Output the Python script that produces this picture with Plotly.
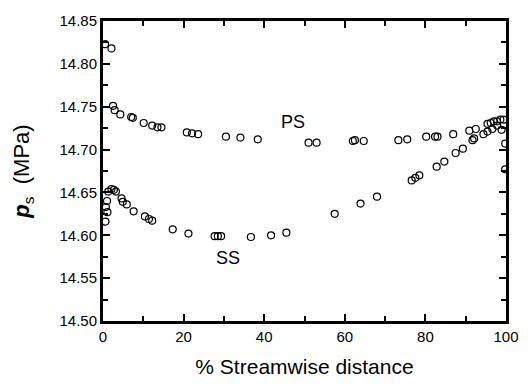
import plotly.graph_objects as go

# Pressure side (PS)
ps_x = [0.5, 2.1, 2.5, 2.9, 4.3, 7.0, 7.4, 10.1, 12.2, 13.5, 14.5, 20.8, 22.1, 23.6,
        30.5, 34.1, 38.4, 51.0, 53.0, 62.0, 62.5, 64.7, 73.3, 75.5, 80.2, 82.4, 83.0,
        86.9, 90.9, 92.5, 95.4, 96.2, 97.0, 97.8, 98.6, 99.4]
ps_y = [14.823, 14.818, 14.751, 14.746, 14.741, 14.738, 14.737, 14.731, 14.728, 14.726,
        14.726, 14.720, 14.719, 14.718, 14.715, 14.714, 14.712, 14.708, 14.708, 14.710,
        14.711, 14.710, 14.711, 14.712, 14.715, 14.715, 14.715, 14.718, 14.722, 14.724,
        14.730, 14.731, 14.733, 14.733, 14.735, 14.735]

# Suction side (SS)
ss_x = [0.6, 0.7, 1.0, 1.1, 1.3, 2.1, 2.7, 3.2, 4.6, 4.9, 5.9, 7.6, 10.4, 11.4, 12.2,
        17.3, 21.2, 27.7, 28.5, 29.3, 36.7, 41.7, 45.5, 57.5, 63.9, 68.0, 76.6, 77.5,
        78.5, 82.8, 84.7, 87.5, 89.3, 91.7, 92.1, 94.4, 95.4, 96.6, 97.8, 98.9, 99.8, 99.8]
ss_y = [14.616, 14.633, 14.640, 14.627, 14.651, 14.654, 14.653, 14.651, 14.643, 14.639,
        14.636, 14.628, 14.622, 14.619, 14.617, 14.607, 14.602, 14.599, 14.599, 14.599,
        14.598, 14.600, 14.603, 14.625, 14.637, 14.645, 14.664, 14.667, 14.670, 14.680,
        14.686, 14.696, 14.701, 14.711, 14.713, 14.718, 14.721, 14.724, 14.728, 14.723,
        14.707, 14.677]

x_ticks = [0, 20, 40, 60, 80, 100]
y_ticks = [14.50, 14.55, 14.60, 14.65, 14.70, 14.75, 14.80, 14.85]

FONT = "Liberation Sans, Arial, sans-serif"
marker = dict(symbol="circle-open", size=7, color="black", line=dict(width=1.2, color="black"))

fig = go.Figure()
fig.add_trace(go.Scatter(x=ps_x, y=ps_y, mode="markers", marker=marker, name="PS", showlegend=False))
fig.add_trace(go.Scatter(x=ss_x, y=ss_y, mode="markers", marker=marker, name="SS", showlegend=False))

fig.add_annotation(x=47.2, y=14.732, text="PS", showarrow=False,
                   font=dict(family=FONT, size=18, color="black"))
fig.add_annotation(x=30.9, y=14.574, text="SS", showarrow=False,
                   font=dict(family=FONT, size=18, color="black"))

axis_common = dict(
    showgrid=False, zeroline=False, showline=True, linecolor="black", linewidth=3,
    mirror="ticks", ticks="inside", ticklen=7, tickwidth=2, tickcolor="black",
    tickfont=dict(family=FONT, size=15, color="black"),
)

fig.update_xaxes(range=[0, 100], tickvals=x_ticks, ticktext=[str(v) for v in x_ticks],
                 minor=dict(ticks="inside", ticklen=5, tickwidth=2, tickcolor="black", dtick=10),
                 title=dict(text="% Streamwise distance", font=dict(family=FONT, size=21, color="black"),
                            standoff=16),
                 **axis_common)
fig.update_yaxes(range=[14.5, 14.85], tickvals=y_ticks, ticktext=[f"{v:.2f}" for v in y_ticks],
                 minor=dict(ticks="inside", ticklen=5, tickwidth=2, tickcolor="black", dtick=0.025),
                 title=dict(text="<b><i>p</i></b><sub>s</sub>  (MPa)",
                            font=dict(family=FONT, size=22, color="black"), standoff=24),
                 **axis_common)

fig.update_layout(
    width=531, height=388,
    margin=dict(l=103, r=17, t=15, b=67),
    paper_bgcolor="white", plot_bgcolor="white",
    font=dict(family=FONT, color="black"),
)

fig.write_html("out.html")
